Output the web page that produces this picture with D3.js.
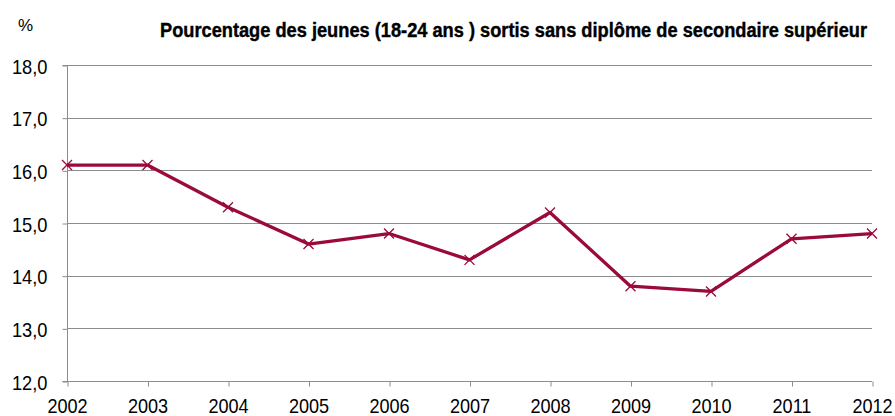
<!DOCTYPE html>
<meta charset="utf-8">
<script src="https://cdn.jsdelivr.net/npm/d3@7"></script>
<style>
body {margin: 0; background: #fff;}
text {font-family: "Liberation Sans", Arial, sans-serif; fill: #000;}
</style>
<div id="vis"></div>
<script>
var years = [2002, 2003, 2004, 2005, 2006, 2007, 2008, 2009, 2010, 2011, 2012];
var values = [16.1, 16.1, 15.3, 14.6, 14.8, 14.3, 15.2, 13.8, 13.7, 14.7, 14.8];
var yTicks = [12, 13, 14, 15, 16, 17, 18];

var width = 895, height = 416;
var margin = {left: 67, right: 23, top: 65, bottom: 35};

var svg = d3.select("#vis").append("svg")
    .attr("width", width)
    .attr("height", height);

// squeeze Liberation Sans into a narrow look
function condense(sel, f) {
  sel.each(function() {
    var len = this.getComputedTextLength();
    d3.select(this).attr("textLength", len * f).attr("lengthAdjust", "spacingAndGlyphs");
  });
}

var x = d3.scalePoint()
    .domain(years)
    .range([margin.left, width - margin.right]);

var y = d3.scaleLinear()
    .domain([12, 18])
    .range([height - margin.bottom, margin.top]);

// gridlines
svg.append("g")
  .selectAll("line")
  .data(yTicks.slice(1))
  .enter().append("line")
    .attr("x1", margin.left)
    .attr("x2", width - margin.right)
    .attr("y1", function(d) { return Math.round(y(d)) + 0.5; })
    .attr("y2", function(d) { return Math.round(y(d)) + 0.5; })
    .attr("stroke", "#8c8c8c")
    .attr("stroke-width", 1);

// y axis
var yAxis = svg.append("g")
    .attr("transform", "translate(" + (margin.left + 0.5) + ",0.5)")
    .call(d3.axisLeft(y).tickValues(yTicks).tickSize(5).tickPadding(15)
      .tickFormat(function(d) { return d3.format(".1f")(d).replace(".", ","); }));
yAxis.selectAll("line, path").attr("stroke", "#8c8c8c");
yAxis.select(".domain").attr("d", "M-5," + y(18) + "H0V" + y(12) + "H-5");
yAxis.selectAll("text").style("font-size", "21px").style("font-family", "'Liberation Sans', Arial, sans-serif")
    .attr("fill", "#000").attr("dy", "0.36em");
condense(yAxis.selectAll("text"), 0.87);

// x axis
var xAxis = svg.append("g")
    .attr("transform", "translate(0," + (Math.round(y(12)) + 0.5) + ")")
    .call(d3.axisBottom(x).tickSize(5).tickPadding(12).tickSizeOuter(0));
xAxis.selectAll("line, path").attr("stroke", "#8c8c8c");
xAxis.select(".domain").attr("d", "M" + margin.left + ",0H" + (width - margin.right));
xAxis.selectAll(".tick line").attr("transform", "translate(0.5,0)");
xAxis.selectAll("text").style("font-size", "21px").style("font-family", "'Liberation Sans', Arial, sans-serif")
    .attr("fill", "#000");
condense(xAxis.selectAll("text"), 0.86);

// line
var pts = years.map(function(d, i) { return [x(d), y(values[i])]; });
svg.append("path")
    .datum(pts)
    .attr("fill", "none")
    .attr("stroke", "#9a0a3a")
    .attr("stroke-width", 3.3)
    .attr("stroke-linejoin", "round")
    .attr("d", d3.line());

// markers
svg.append("g")
  .selectAll("path")
  .data(pts)
  .enter().append("path")
    .attr("transform", function(d) { return "translate(" + d[0] + "," + d[1] + ")"; })
    .attr("d", "M-5,-5L5,5M-5,5L5,-5")
    .attr("stroke", "#9a0a3a")
    .attr("stroke-width", 1.3);

// texts
svg.append("text")
    .attr("x", 18).attr("y", 31)
    .style("font-size", "17px")
    .text("%");

svg.append("text")
    .attr("x", 160).attr("y", 37)
    .style("font-size", "20px")
    .style("font-weight", "700")
    .attr("stroke", "#000")
    .attr("stroke-width", 0.4)
    .attr("textLength", 707)
    .attr("lengthAdjust", "spacingAndGlyphs")
    .text("Pourcentage des jeunes (18-24 ans ) sortis sans diplôme de secondaire supérieur");
</script>
